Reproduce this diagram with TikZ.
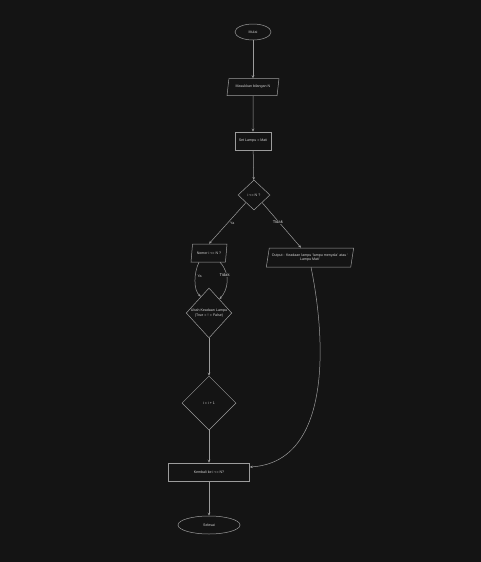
\documentclass[tikz,border=0pt]{standalone}
\usepackage{fontspec}
\setmainfont{Liberation Sans}
\usetikzlibrary{shapes.geometric,arrows.meta,calc}
\definecolor{bg}{HTML}{141414}
\definecolor{ln}{HTML}{9C9C9C}
\definecolor{tx}{HTML}{D0D0D0}
\begin{document}
\begin{tikzpicture}[x=1pt,y=-1pt,
  every node/.style={text=tx,font=\fontsize{3.6}{4.2}\selectfont,inner sep=0.5pt},
  base/.style={draw=ln,line width=0.5pt,align=center},
  term/.style={base,ellipse,minimum width=36pt,minimum height=16pt},
  io/.style={base,trapezium,trapezium left angle=72,trapezium right angle=108,trapezium stretches=true},
  proc/.style={base,rectangle},
  dec/.style={base,diamond},
  arr/.style={draw=ln,line width=0.5pt,-{Stealth[length=3pt,width=2.5pt]}},
  lbl/.style={font=\fontsize{3.6}{4.2}\selectfont},
  lblon/.style={font=\fontsize{4.2}{4.8}\selectfont,fill=bg,inner sep=0.6pt}]
\fill[bg] (0,0) rectangle (481,562);
\useasboundingbox (0,0) rectangle (481,562);

\node[term] (start) at (253,32) {Mulai};
\node[io,minimum width=52pt,minimum height=17pt] (in) at (253,87) {Masukkan bilangan N};
\node[proc,minimum width=36pt,minimum height=18pt] (set) at (253,141) {Set Lampu = Mati};
\node[dec,minimum width=32pt,minimum height=30pt] (d1) at (254,195) {i <= N ?};
\node[io,minimum width=36pt,minimum height=18pt] (p2) at (209,253) {Nomor i <= N ?};
\node[io,minimum width=88pt,minimum height=19pt] (out) at (310,257.5) {Output : Keadaan lampu `lampu menyala' atau `\\Lampu Mati'};
\node[dec,minimum width=44pt,minimum height=50pt] (d2) at (209,313) {Ubah Keadaan Lampu\\(True = ! = False)};
\node[dec,minimum width=54pt,minimum height=54pt] (d3) at (209,403) {i = i + 1};
\node[proc,minimum width=81pt,minimum height=18pt] (back) at (209,472) {Kembali ke i <= N?};
\node[term,minimum width=62pt,minimum height=18pt] (end) at (209,525) {Selesai};

\draw[arr] (start) -- (in);
\draw[arr] (in) -- (set);
\draw[arr] (set) -- (d1);
\draw[arr] ($(d1.south)!0.5!(d1.west)$) -- (p2.north) node[lbl,pos=0.5,right=2pt] {Ya};
\draw[arr] ($(d1.south)!0.5!(d1.east)$) -- ([xshift=-9pt]out.north) node[lblon,pos=0.43,xshift=-1pt] {Tidak};
\draw[arr] ([xshift=-10pt]p2.south) .. controls (194,272) and (193,290) .. ($(d2.north)!0.35!(d2.west)$)
  node[lbl,pos=0.38,right=1.5pt] {Ya};
\draw[arr] ([xshift=11pt]p2.south) .. controls (231,274) and (228,290) .. ($(d2.north)!0.45!(d2.east)$)
  node[lblon,pos=0.33,xshift=-2pt] {Tidak};
\draw[arr] (d2) -- (d3);
\draw[arr] (d3) -- (back);
\draw[arr] (back) -- (end);
\draw[arr] ([xshift=1pt]out.south) .. controls (326,340) and (332,462) .. ([yshift=5pt]back.east);
\end{tikzpicture}
\end{document}
